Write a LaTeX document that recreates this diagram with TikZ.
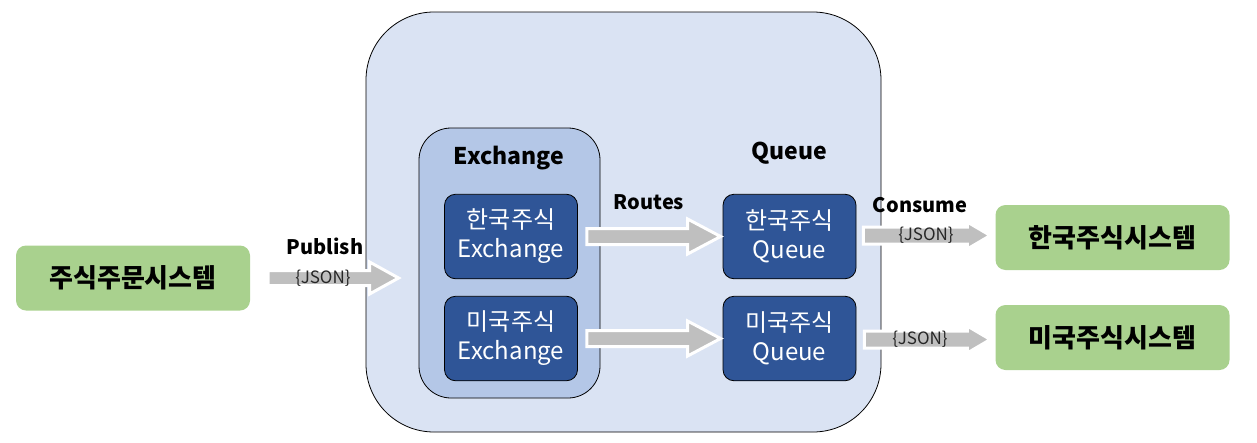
\documentclass[tikz,border=0pt]{standalone}
\usepackage{fontspec}
\setmainfont{Noto Sans CJK KR}
\usetikzlibrary{calc}
\definecolor{outerfill}{HTML}{DAE3F3}
\definecolor{exfill}{HTML}{B4C7E7}
\definecolor{darkblue}{HTML}{2F5597}
\definecolor{greenbox}{HTML}{A9D18E}
\definecolor{arrowgray}{HTML}{BFBFBF}
\tikzset{
  sysbox/.style={fill=greenbox, rounded corners=10pt, minimum width=234pt, minimum height=65pt,
    font=\fontsize{26}{30}\selectfont\bfseries, inner sep=0pt},
  innerbox/.style={fill=darkblue, draw=black, line width=0.8pt, rounded corners=11pt,
    minimum width=133pt, minimum height=84.5pt, text=white, align=center, inner sep=0pt,
    font=\fontsize{24}{29}\selectfont},
  biglabel/.style={font=\fontsize{23}{26}\selectfont\bfseries, inner sep=0pt},
  smalllabel/.style={font=\fontsize{20}{23}\selectfont\bfseries, inner sep=0pt},
  jsonlabel/.style={font=\fontsize{17}{19}\selectfont, text=black!85, inner sep=0pt},
  blockarrowstyle/.style={fill=arrowgray, draw=white, line width=3pt, line join=miter},
}
% #1 start, #2 end, #3 shaft half height, #4 head half height, #5 head length
\newcommand\blockarrow[5]{%
  \path let \p1=(#1), \p2=(#2) in
    [blockarrowstyle] (\x1,\y1+#3) -- (\x2-#5,\y1+#3) -- (\x2-#5,\y1+#4) -- (\x2,\y1)
    -- (\x2-#5,\y1-#4) -- (\x2-#5,\y1-#3) -- (\x1,\y1-#3) -- cycle;}
\begin{document}
\begin{tikzpicture}[x=1pt,y=-1pt]
\useasboundingbox (0,0) rectangle (1257,442);
% containers
\node[fill=outerfill, draw=black, line width=0.8pt, rounded corners=68pt, minimum width=515pt,
  minimum height=420pt, inner sep=0pt] (broker) at (623.5,222) {};
\node[fill=exfill, draw=black, line width=0.8pt, rounded corners=32pt, minimum width=181pt,
  minimum height=270pt, inner sep=0pt] (exbox) at (509.5,263) {};
% inner boxes
\node[innerbox] (kex) at (511,236.5) {한국주식\\Exchange};
\node[innerbox] (mex) at (511,338.5) {미국주식\\Exchange};
\node[innerbox] (kq) at (789.5,236.5) {한국주식\\Queue};
\node[innerbox] (mq) at (789.5,338.5) {미국주식\\Queue};
% systems
\node[sysbox] (order) at (133,278) {주식주문시스템};
\node[sysbox] (ksys) at (1112.5,237.5) {한국주식시스템};
\node[sysbox] (msys) at (1112.5,337.5) {미국주식시스템};
% labels
\node[biglabel] (exlabel) at (509,158) {Exchange};
\node[biglabel] (qlabel) at (789,153) {Queue};
\node[smalllabel] (routes) at (649,202) {Routes};
\node[smalllabel] (publish) at (325,246) {Publish};
\node[smalllabel] (consume) at (920,205) {Consume};
% arrow endpoints
\coordinate (pubS) at ($(order.east)+(18,0)$);
\coordinate (pubE) at ($(exbox.west|-order.east)+(-20,0)$);
\coordinate (r1S) at ($(kex.east)+(9,0)$);
\coordinate (r1E) at ($(kq.west)+(-2,0)$);
\coordinate (r2S) at ($(mex.east)+(9,0)$);
\coordinate (r2E) at ($(mq.west)+(-2,0)$);
\coordinate (c1S) at ($(kq.east)+(7,-1)$);
\coordinate (c1E) at ($(ksys.west|-kq.east)+(-5,0)$);
\coordinate (c2S) at ($(mq.east)+(8,1)$);
\coordinate (c2E) at ($(msys.west|-mq.east)+(-5,0)$);
% arrows
\blockarrow{pubS}{pubE}{7.5pt}{16pt}{29pt}
\blockarrow{r1S}{r1E}{8pt}{17.5pt}{33pt}
\blockarrow{r2S}{r2E}{8pt}{17.5pt}{33pt}
\blockarrow{c1S}{c1E}{8.5pt}{13.5pt}{23pt}
\blockarrow{c2S}{c2E}{8.5pt}{13.5pt}{23pt}
% json labels
\node[jsonlabel] (j1) at (323,278) {\{JSON\}};
\node[jsonlabel] (j2) at (926,235) {\{JSON\}};
\node[jsonlabel] (j3) at (920,339) {\{JSON\}};
\end{tikzpicture}
\end{document}
